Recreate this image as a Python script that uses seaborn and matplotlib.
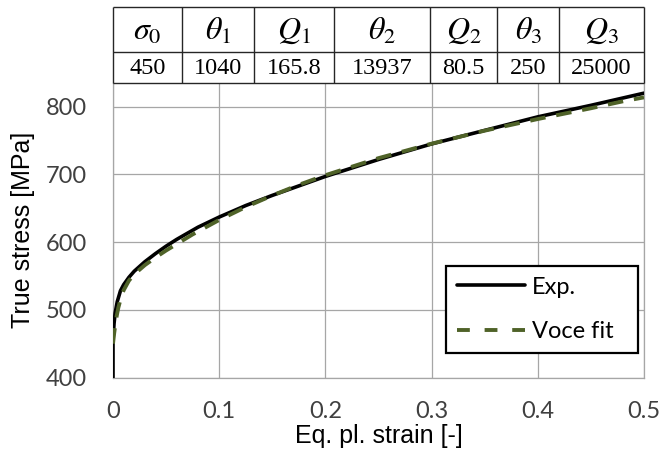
import matplotlib
matplotlib.use("Agg")
import matplotlib.pyplot as plt
import numpy as np
import pandas as pd
import seaborn as sns
from matplotlib.lines import Line2D

# Experimental flow curve (equivalent plastic strain, true stress in MPa)
exp_strain = [0.0, 0.0, 0.001, 0.002, 0.004, 0.007, 0.01, 0.015, 0.02, 0.03,
              0.04, 0.05, 0.06, 0.08, 0.1, 0.125, 0.15, 0.175, 0.2, 0.25,
              0.3, 0.35, 0.4, 0.45, 0.5]
exp_stress = [400, 455, 480, 495, 512, 528, 537, 548, 557, 571,
              583, 594, 604, 622, 637, 654, 669, 683, 697, 722,
              745, 765, 785, 802, 820]

# Three-term Voce fit
voce_strain = [0.0, 0.001, 0.002, 0.0035, 0.005, 0.0075, 0.01, 0.015, 0.02,
               0.03, 0.04, 0.05, 0.075, 0.1, 0.125, 0.15, 0.175, 0.2, 0.25,
               0.3, 0.35, 0.4, 0.45, 0.48, 0.5]
voce_stress = [450, 464.1, 476.1, 491.1, 503.0, 518.0, 528.8, 543.1, 552.5,
               566.0, 577.3, 587.6, 611.4, 632.7, 651.8, 668.9, 684.6, 698.8,
               724.0, 745.4, 764.6, 781.8, 797.7, 807.9, 813.8]

# Fit parameters shown in the table above the plot
param_names = [r"$\sigma_0$", r"$\theta_1$", r"$Q_1$", r"$\theta_2$",
               r"$Q_2$", r"$\theta_3$", r"$Q_3$"]
param_values = [450, 1040, 165.8, 13937, 80.5, 250, 25000]

x_ticks = [0.0, 0.1, 0.2, 0.3, 0.4, 0.5]
x_tick_labels = ["0", "0.1", "0.2", "0.3", "0.4", "0.5"]
y_ticks = [400, 500, 600, 700, 800]

sns.set_theme(style="whitegrid")
plt.rcParams["font.family"] = ["Lato", "DejaVu Sans"]
plt.rcParams["mathtext.fontset"] = "stix"

W, H = 661, 459
fig = plt.figure(figsize=(W / 100, H / 100), dpi=100)
fig.patch.set_facecolor("white")

# main plot area (pixel layout)
left, right, top, bottom = 113, 644, 83, 377.5
ax = fig.add_axes([left / W, (H - bottom) / H, (right - left) / W, (bottom - top) / H])
ax.set_facecolor("white")

exp_df = pd.DataFrame({"strain": exp_strain, "stress": exp_stress})
voce_df = pd.DataFrame({"strain": voce_strain, "stress": voce_stress})

sns.lineplot(data=exp_df, x="strain", y="stress", ax=ax, color="black",
             linewidth=2.6, estimator=None, sort=False, zorder=3)
sns.lineplot(data=voce_df, x="strain", y="stress", ax=ax, color="#4F6228",
             linewidth=2.8, estimator=None, sort=False, zorder=4)
ax.lines[-1].set_dashes([4, 2.8])

ax.set_xlim(0, 0.5)
ax.set_ylim(400, 835)
ax.set_xticks(x_ticks)
ax.set_xticklabels(x_tick_labels)
ax.set_yticks(y_ticks)
ax.grid(True, color="#A6A6A6", linewidth=0.9)
ax.tick_params(axis="both", length=0, labelsize=17, colors="#404040")
ax.tick_params(axis="x", pad=17)
ax.tick_params(axis="y", pad=18.5)

for side in ("left", "bottom", "right"):
    ax.spines[side].set_visible(True)
    ax.spines[side].set_color("#A6A6A6")
    ax.spines[side].set_linewidth(0.9)
ax.spines["top"].set_visible(False)

ax.set_xlabel("Eq. pl. strain [-]", fontsize=18, family=["Liberation Sans", "DejaVu Sans"],
              color="black", labelpad=1)
ax.set_ylabel("True stress [MPa]", fontsize=18, family=["Liberation Sans", "DejaVu Sans"],
              color="black", labelpad=8)

handles = [Line2D([], [], color="black", linewidth=2.6),
           Line2D([], [], color="#4F6228", linewidth=2.8, dashes=[3.3, 3.8])]
leg = ax.legend(handles, ["Exp.", "Voce fit"], loc="upper left",
                bbox_to_anchor=(0.627, 0.049, 0.362, 0.33), mode="expand",
                borderaxespad=0, fontsize=17, handlelength=2.9, handletextpad=0.3,
                labelspacing=1.0, borderpad=0.45, fancybox=False, framealpha=1,
                edgecolor="black")
leg.get_frame().set_linewidth(1.6)
for t in leg.get_texts():
    t.set_color("black")

# parameter table drawn in pixel units
col_widths = [69, 72, 80, 96, 67, 62, 85]
row_heights = [31, 45]  # value row, header row
tab_top = 7
tab = fig.add_axes([left / W, (H - top) / H, (right - left) / W, (top - tab_top) / H])
tab.set_xlim(0, sum(col_widths))
tab.set_ylim(0, sum(row_heights))
tab.axis("off")

edges = np.concatenate([[0], np.cumsum(col_widths)])
line_kw = dict(color="#262626", linewidth=1.0, clip_on=False)
tab.vlines(edges, 0, sum(row_heights), **line_kw)
tab.hlines([0, row_heights[0], sum(row_heights)], 0, sum(col_widths), **line_kw)

centers = (edges[:-1] + edges[1:]) / 2
for cx, name, val in zip(centers, param_names, param_values):
    tab.text(cx, row_heights[0] + row_heights[1] / 2 - 1, name, ha="center", va="center",
             fontsize=23, color="black")
    tab.text(cx, row_heights[0] / 2 - 0.5, f"{val:g}", ha="center", va="center",
             fontsize=17.5, family=["Liberation Serif", "DejaVu Serif"], color="black")

fig.savefig("out.png", dpi=100, facecolor="white")
